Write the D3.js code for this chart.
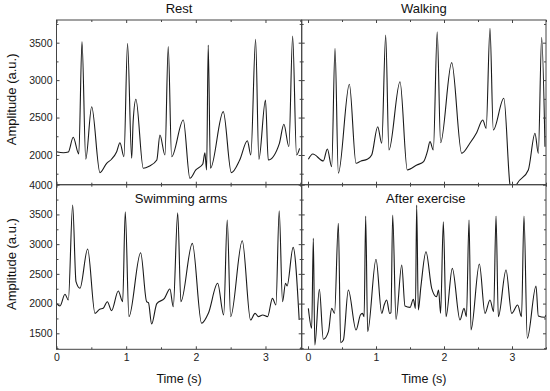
<!DOCTYPE html>
<html>
<head>
<meta charset="utf-8">
<script src="https://cdn.jsdelivr.net/npm/d3@7"></script>
<style>
  body { margin: 0; background: #fff; }
  svg { display: block; font-family: "Liberation Sans", Arial, sans-serif; }
</style>
</head>
<body>
<svg id="chart"></svg>
<script>
// values (time in s, amplitude in a.u.)
const restT = [0, 0.1, 0.17, 0.24, 0.32, 0.366, 0.42, 0.505, 0.624, 0.72, 0.79, 0.864, 0.911, 0.968, 1.02, 1.079, 1.1, 1.14, 1.246, 1.33, 1.44, 1.485, 1.557, 1.604, 1.653, 1.82, 1.915, 2.0, 2.1, 2.13, 2.155, 2.178, 2.21, 2.394, 2.51, 2.63, 2.74, 2.79, 2.858, 2.905, 3.0, 3.04, 3.2, 3.264, 3.336, 3.39, 3.446, 3.49];
const restV = [2044, 2030, 2040, 2236, 2013, 3514, 1943, 2645, 1764, 1889, 1943, 2044, 2164, 1977, 3492, 1956, 2440, 2744, 1822, 1850, 1933, 2267, 2000, 3447, 1977, 2467, 1689, 1800, 1880, 2030, 1800, 3470, 1822, 2579, 1764, 1933, 2191, 2000, 3546, 1943, 2735, 1933, 2156, 2410, 2111, 3590, 2000, 2089];

const walkT = [0.005, 0.07, 0.225, 0.284, 0.348, 0.397, 0.446, 0.608, 0.706, 0.78, 0.87, 0.936, 1.025, 1.084, 1.142, 1.19, 1.353, 1.46, 1.6, 1.7, 1.755, 1.794, 1.843, 1.9, 1.95, 2.113, 2.26, 2.38, 2.48, 2.57, 2.62, 2.676, 2.725, 2.88, 2.97, 3.01, 3.07, 3.24, 3.338, 3.387, 3.436, 3.485];
const walkV = [1943, 2013, 1920, 2080, 1844, 3425, 1755, 2944, 1889, 1920, 1943, 2000, 2378, 2156, 3603, 2067, 2979, 1800, 1866, 1911, 2044, 2178, 2067, 3647, 2164, 3233, 2022, 2156, 2298, 2467, 2356, 3693, 2334, 2757, 1600, 1480, 1610, 1800, 2290, 2022, 3572, 2111];

const swimT = [0, 0.05, 0.122, 0.17, 0.232, 0.28, 0.337, 0.447, 0.553, 0.62, 0.67, 0.73, 0.79, 0.887, 0.95, 0.987, 1.04, 1.208, 1.294, 1.32, 1.366, 1.44, 1.55, 1.628, 1.676, 1.74, 1.786, 1.95, 2.083, 2.18, 2.313, 2.4, 2.451, 2.5, 2.667, 2.786, 2.85, 2.9, 2.96, 3.03, 3.1, 3.15, 3.197, 3.245, 3.288, 3.31, 3.397, 3.484];
const swimV = [2005, 1960, 2156, 2060, 3658, 2368, 2257, 2918, 1836, 1904, 1920, 2032, 1880, 2211, 2032, 3546, 1780, 2856, 2032, 2015, 1656, 2000, 2088, 2245, 1948, 3529, 2032, 3013, 1668, 1836, 2341, 1808, 3406, 1780, 3057, 1724, 1836, 1780, 1808, 1780, 2088, 1976, 3563, 2032, 2341, 2296, 2946, 1724];

const afterT = [0.005, 0.054, 0.078, 0.1, 0.167, 0.225, 0.3, 0.348, 0.39, 0.446, 0.48, 0.52, 0.593, 0.706, 0.77, 0.8, 0.825, 0.848, 0.877, 1.0, 1.084, 1.12, 1.157, 1.2, 1.22, 1.245, 1.294, 1.378, 1.426, 1.5, 1.549, 1.58, 1.598, 1.622, 1.66, 1.735, 1.819, 1.89, 1.92, 1.95, 1.99, 2.03, 2.122, 2.235, 2.294, 2.33, 2.368, 2.397, 2.52, 2.603, 2.676, 2.73, 2.765, 2.799, 2.912, 2.995, 3.083, 3.14, 3.176, 3.225, 3.353, 3.387, 3.48, 3.5];
const afterV = [1920, 1584, 3098, 1303, 2240, 1399, 1528, 1920, 1836, 3350, 1342, 1387, 2228, 1556, 1808, 1836, 1780, 3473, 1528, 2745, 1836, 1976, 2060, 1836, 1848, 3490, 1735, 2649, 1959, 1937, 2072, 1920, 3658, 1892, 2285, 2872, 2257, 2116, 2228, 1836, 3377, 1780, 2593, 1724, 1920, 1780, 3406, 1556, 2666, 1836, 2060, 1864, 3473, 1780, 2565, 1836, 1976, 1780, 3473, 1416, 2296, 1791, 1769, 1810];

const xTicks = [0, 1, 2, 3];
const xMinor = [0.5, 1.5, 2.5, 3.5];
const topYTicks = [2000, 2500, 3000, 3500];
const topYMinor = [1750, 2250, 2750, 3250, 3750];
const botYTicks = [1500, 2000, 2500, 3000, 3500, 4000];
const botYMinor = [1250, 1750, 2250, 2750, 3250, 3750];

const width = 550;
const height = 391;
const padL = 56.5, midX = 301.7, padR = 546;
const padT = 20, midY = 184.7, padB = 349.3;

const svg = d3.select("#chart").attr("width", width).attr("height", height);

const panels = [
  { id: "rest", title: "Rest", t: restT, v: restV, x0: padL, x1: midX, y0: padT, y1: midY,
    xDom: [0, 3.52], yDom: [1603, 3803], yTicks: topYTicks, yMinor: topYMinor, yLabels: true, xLabels: false, inside: false },
  { id: "walk", title: "Walking", t: walkT, v: walkV, x0: midX, x1: padR, y0: padT, y1: midY,
    xDom: [-0.093, 3.5], yDom: [1603, 3803], yTicks: topYTicks, yMinor: topYMinor, yLabels: false, xLabels: false, inside: false },
  { id: "swim", title: "Swimming arms", t: swimT, v: swimV, x0: padL, x1: midX, y0: midY, y1: padB,
    xDom: [0, 3.52], yDom: [1231, 4000], yTicks: botYTicks, yMinor: botYMinor, yLabels: true, xLabels: true, inside: true },
  { id: "after", title: "After exercise", t: afterT, v: afterV, x0: midX, x1: padR, y0: midY, y1: padB,
    xDom: [-0.093, 3.5], yDom: [1231, 4000], yTicks: botYTicks, yMinor: botYMinor, yLabels: false, xLabels: true, inside: true }
];

const frameColor = "#444";

panels.forEach((p) => {
  const x = d3.scaleLinear().domain(p.xDom).range([p.x0, p.x1]);
  const y = d3.scaleLinear().domain(p.yDom).range([p.y1, p.y0]);
  const g = svg.append("g");

  // clip
  svg.append("clipPath").attr("id", "clip-" + p.id)
    .append("rect").attr("x", p.x0).attr("y", p.y0)
    .attr("width", p.x1 - p.x0).attr("height", p.y1 - p.y0);

  const data = p.t.map((t, i) => [t, p.v[i]]);
  const line = d3.line().x((d) => x(d[0])).y((d) => y(d[1])).curve(d3.curveMonotoneX);

  g.append("path")
    .datum(data)
    .attr("clip-path", `url(#clip-${p.id})`)
    .attr("fill", "none")
    .attr("stroke", "#1a1a1a")
    .attr("stroke-width", 1.1)
    .attr("stroke-linejoin", "round")
    .attr("d", line);

  // ticks on all sides, pointing inward
  const addAxis = (axis, tf) => {
    const a = g.append("g").attr("transform", tf).call(axis);
    a.select(".domain").remove();
    a.selectAll(".tick line").attr("stroke", frameColor);
    a.selectAll("text").attr("fill", "#222").style("font-size", "10.5px").style("font-family", "Liberation Sans, Arial, sans-serif");
    return a;
  };

  addAxis(d3.axisLeft(y).tickValues(p.yTicks).tickSize(-3).tickPadding(4)
    .tickFormat(p.yLabels ? d3.format("d") : () => ""), `translate(${p.x0},0)`);
  addAxis(d3.axisLeft(y).tickValues(p.yMinor).tickSize(-2).tickFormat(() => ""), `translate(${p.x0},0)`);
  addAxis(d3.axisRight(y).tickValues(p.yTicks).tickSize(-3).tickFormat(() => ""), `translate(${p.x1},0)`);
  addAxis(d3.axisRight(y).tickValues(p.yMinor).tickSize(-2).tickFormat(() => ""), `translate(${p.x1},0)`);

  addAxis(d3.axisBottom(x).tickValues(xTicks).tickSize(-3).tickPadding(4)
    .tickFormat(p.xLabels ? d3.format("d") : () => ""), `translate(0,${p.y1})`);
  addAxis(d3.axisBottom(x).tickValues(xMinor).tickSize(-2).tickFormat(() => ""), `translate(0,${p.y1})`);
  addAxis(d3.axisTop(x).tickValues(xTicks).tickSize(-3).tickFormat(() => ""), `translate(0,${p.y0})`);
  addAxis(d3.axisTop(x).tickValues(xMinor).tickSize(-2).tickFormat(() => ""), `translate(0,${p.y0})`);

  // frame
  g.append("rect")
    .attr("x", p.x0).attr("y", p.y0)
    .attr("width", p.x1 - p.x0).attr("height", p.y1 - p.y0)
    .attr("fill", "none").attr("stroke", frameColor).attr("stroke-width", 1);

  // title
  g.append("text")
    .attr("x", (p.x0 + p.x1) / 2 + (p.inside ? 2 : 0))
    .attr("y", p.inside ? p.y0 + 18 : 13)
    .attr("text-anchor", "middle")
    .attr("fill", "#111")
    .style("font-size", "13px")
    .text(p.title);

  if (p.xLabels) {
    g.append("text")
      .attr("x", (p.x0 + p.x1) / 2)
      .attr("y", 383)
      .attr("text-anchor", "middle")
      .attr("fill", "#111")
      .style("font-size", "12.5px")
      .text("Time (s)");
  }
  if (p.yLabels) {
    g.append("text")
      .attr("transform", `translate(16,${(p.y0 + p.y1) / 2 - 3}) rotate(-90)`)
      .attr("text-anchor", "middle")
      .attr("fill", "#111")
      .style("font-size", "13px")
      .text("Amplitude (a.u.)");
  }
});
</script>
</body>
</html>
